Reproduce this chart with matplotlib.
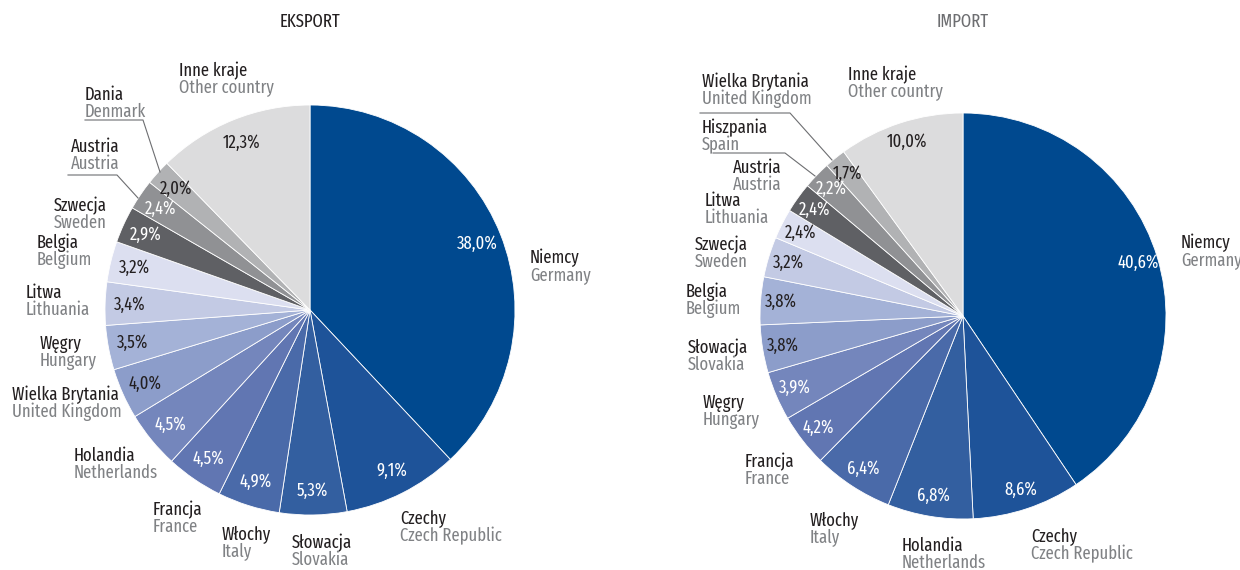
import numpy as np
import matplotlib
matplotlib.use("Agg")
from matplotlib import pyplot as plt

# data
export_pl = ["Niemcy", "Czechy", "Słowacja", "Włochy", "Francja", "Holandia", "Wielka Brytania",
             "Węgry", "Litwa", "Belgia", "Szwecja", "Austria", "Dania", "Inne kraje"]
export_en = ["Germany", "Czech Republic", "Slovakia", "Italy", "France", "Netherlands", "United Kingdom",
             "Hungary", "Lithuania", "Belgium", "Sweden", "Austria", "Denmark", "Other country"]
export_val = [38.0, 9.1, 5.3, 4.9, 4.5, 4.5, 4.0, 3.5, 3.4, 3.2, 2.9, 2.4, 2.0, 12.3]

import_pl = ["Niemcy", "Czechy", "Holandia", "Włochy", "Francja", "Węgry", "Słowacja",
             "Belgia", "Szwecja", "Litwa", "Austria", "Hiszpania", "Wielka Brytania", "Inne kraje"]
import_en = ["Germany", "Czech Republic", "Netherlands", "Italy", "France", "Hungary", "Slovakia",
             "Belgium", "Sweden", "Lithuania", "Austria", "Spain", "United Kingdom", "Other country"]
import_val = [40.6, 8.6, 6.8, 6.4, 4.2, 3.9, 3.8, 3.8, 3.2, 2.4, 2.4, 2.2, 1.7, 10.0]

colors = ["#00498f", "#1e5399", "#335fa0", "#4a6aa9", "#6176b2", "#7486bc", "#8c9dca",
          "#a4b2d7", "#c3cae4", "#dcdff0", "#5f6064", "#909194", "#b1b2b4", "#dcdcdd"]
# percentage label on dark slices is white
white_pct = [True, True, True, True, True, True, False, False, False, False, True, True, False, False]

plt.rcParams['font.family'] = ['Fira Sans Extra Condensed', 'Fira Sans Condensed', 'DejaVu Sans']

DARK = "#231f20"
GREY = "#808285"
FS = 13

W, H = 1240, 570
fig = plt.figure(figsize=(W / 100, H / 100), dpi=100)
ax = fig.add_axes([0, 0, 1, 1])


def Y(y):
    # pixel row -> data y
    return H - y


def draw_pie(values, center, radius, pctdist):
    wedges, texts, autotexts = ax.pie(
        values, colors=colors, startangle=90, counterclock=False,
        center=center, radius=radius, pctdistance=pctdist,
        autopct="%.1f", wedgeprops=dict(edgecolor="white", linewidth=0.6),
        textprops=dict(fontsize=FS))
    for t, v, w in zip(autotexts, values, white_pct):
        t.set_text(f"{v:.1f}".replace(".", ",") + "%")
        t.set_color("white" if w else DARK)
    return wedges


def label(x, y, pl, en):
    ax.text(x, Y(y), pl, color=DARK, fontsize=FS, ha="left", va="center")
    ax.text(x, Y(y + 17), en, color=GREY, fontsize=FS, ha="left", va="center")


draw_pie(export_val, (310, Y(310)), 205, 0.88)
draw_pie(import_val, (963, Y(316)), 203, 0.9)
ax.set_xlim(0, W)
ax.set_ylim(0, H)
ax.set_aspect('equal')
ax.axis('off')

ax.text(310, Y(22), "EKSPORT", color=DARK, fontsize=FS, ha="center", va="center")
ax.text(963, Y(22), "IMPORT", color="#6d6e71", fontsize=FS, ha="center", va="center")

# label positions (left x, row of polish name)
exp_pos = [(530, 258), (400, 519), (292, 543), (222, 535), (153, 510), (74, 456), (12, 395),
           (40, 344), (26, 293), (37, 243), (54, 206), (71, 147), (85, 95), (179, 71)]
imp_pos = [(1181, 243), (1031, 537), (902, 546), (810, 521), (745, 462), (703, 403), (688, 348),
           (686, 292), (695, 245), (705, 201), (733, 168), (702, 128), (702, 82), (848, 75)]

for (x, y), pl, en in zip(exp_pos, export_pl, export_en):
    label(x, y, pl, en)
for (x, y), pl, en in zip(imp_pos, import_pl, import_en):
    label(x, y, pl, en)

# leader lines
lc = "#6d6e71"
ax.plot([68, 117, 138], [Y(175), Y(175), Y(198)], color=lc, lw=0.8)
ax.plot([85, 143, 160], [Y(120), Y(120), Y(172)], color=lc, lw=0.8)
ax.plot([713, 785, 815], [Y(153), Y(153), Y(176)], color=lc, lw=0.8)
ax.plot([700, 790, 832], [Y(113), Y(113), Y(160)], color=lc, lw=0.8)

fig.savefig("out.png", dpi=100, facecolor="white")
